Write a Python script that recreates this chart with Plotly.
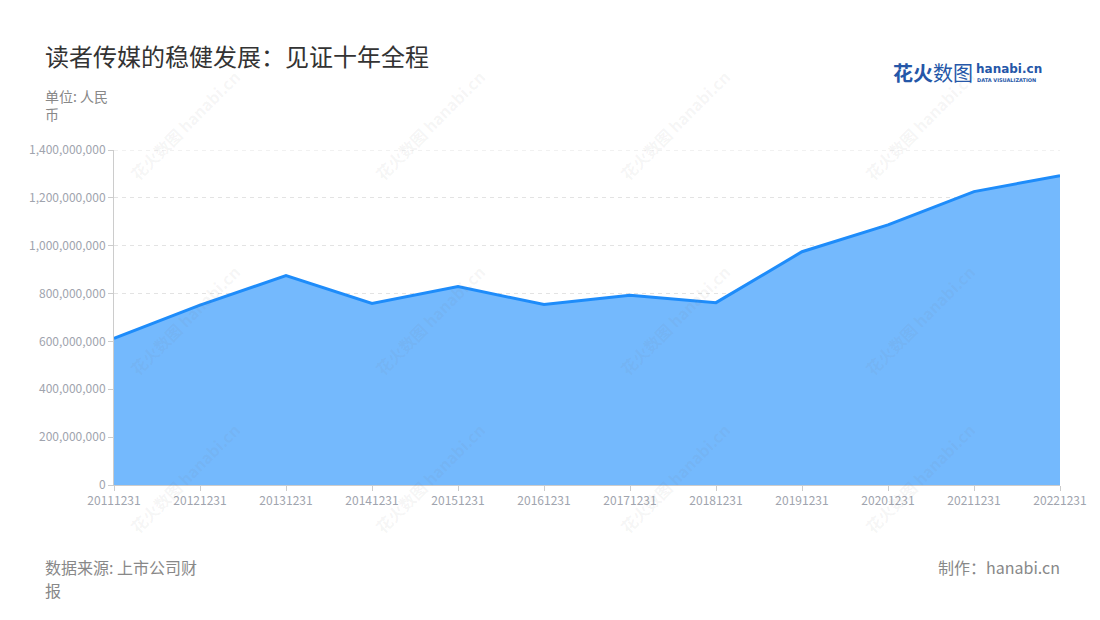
import plotly.graph_objects as go

categories = ["20111231", "20121231", "20131231", "20141231", "20151231", "20161231",
              "20171231", "20181231", "20191231", "20201231", "20211231", "20221231"]
values = [613e6, 752e6, 875e6, 759e6, 829e6, 754e6, 793e6, 762e6, 975e6, 1087e6, 1226e6, 1293e6]
y_ticks = [0, 200e6, 400e6, 600e6, 800e6, 1000e6, 1200e6, 1400e6]
y_tick_labels = ["0", "200,000,000", "400,000,000", "600,000,000", "800,000,000",
                 "1,000,000,000", "1,200,000,000", "1,400,000,000"]

FONT = "Noto Sans CJK SC"
OFF = 8  # page body margin

W, H = 1100, 620
L, R, T, B = 114 - OFF, 40 + OFF, 150 - OFF, 135 + OFF

fig = go.Figure()
fig.add_trace(go.Scatter(
    x=categories, y=values, mode="lines",
    line=dict(color="#1E8CFA", width=3),
    fill="tozeroy", fillcolor="#74B9FD",
    hoverinfo="x+y",
))


def paper_x(px):
    return (px - OFF - L) / (W - L - R)


def paper_y(py):
    return (H - B - (py - OFF)) / (H - T - B)


annotations = []
# watermarks
for cx in [185, 430, 675, 920]:
    for cy in [125, 320, 478]:
        annotations.append(dict(
            x=paper_x(cx), y=paper_y(cy), xref="paper", yref="paper",
            xanchor="center", yanchor="middle", showarrow=False,
            text="<b>花火数图</b> <b>hanabi.cn</b>", textangle=-45,
            font=dict(family=FONT, size=16, color="rgba(120,120,120,0.07)"),
        ))

annotations += [
    dict(x=paper_x(43), y=paper_y(55), xref="paper", yref="paper", xanchor="left", yanchor="middle",
         showarrow=False, text="读者传媒的稳健发展：见证十年全程",
         font=dict(family=FONT, size=24, color="#333333")),
    dict(x=paper_x(43), y=paper_y(105), xref="paper", yref="paper", xanchor="left", yanchor="middle",
         showarrow=False, text="单位: 人民<br>币", align="left",
         font=dict(family=FONT, size=14, color="#888888")),
    dict(x=paper_x(43), y=paper_y(567), xref="paper", yref="paper", xanchor="left", yanchor="middle",
         showarrow=False, text="数据来源: 上市公司财", align="left",
         font=dict(family=FONT, size=16, color="#888888")),
    dict(x=paper_x(43), y=paper_y(590), xref="paper", yref="paper", xanchor="left", yanchor="middle",
         showarrow=False, text="报", align="left",
         font=dict(family=FONT, size=16, color="#888888")),
    dict(x=paper_x(1062), y=paper_y(567), xref="paper", yref="paper", xanchor="right", yanchor="middle",
         showarrow=False, text="制作：hanabi.cn", align="right",
         font=dict(family=FONT, size=16, color="#888888")),
    # logo
    dict(x=paper_x(891), y=paper_y(72), xref="paper", yref="paper", xanchor="left", yanchor="middle",
         showarrow=False, text="<b>花火</b>数图",
         font=dict(family=FONT, size=20, color="#2557A8")),
    dict(x=paper_x(974), y=paper_y(69), xref="paper", yref="paper", xanchor="left", yanchor="middle",
         showarrow=False, text="<b>hanabi.cn</b>",
         font=dict(family="DejaVu Sans", size=12, color="#2557A8")),
    dict(x=paper_x(975), y=paper_y(80), xref="paper", yref="paper", xanchor="left", yanchor="middle",
         showarrow=False, text="<b>DATA VISUALIZATION</b>",
         font=dict(family="DejaVu Sans", size=5, color="#2557A8")),
]

fig.update_layout(
    width=W, height=H,
    margin=dict(l=L, r=R, t=T, b=B),
    paper_bgcolor="white", plot_bgcolor="white",
    showlegend=False,
    font=dict(family=FONT),
    annotations=annotations,
    shapes=[dict(type="line", xref="paper", yref="y", x0=0, x1=1, y0=y_ticks[-1], y1=y_ticks[-1],
                 line=dict(color="#e3e3e3", width=1, dash="4px,4px"), layer="below")],
)
fig.update_xaxes(
    type="category", range=[0, len(categories) - 1],
    showgrid=False, showline=True, linecolor="#cccccc", linewidth=1,
    ticks="outside", ticklen=5, tickcolor="#cccccc",
    tickfont=dict(family=FONT, size=12, color="#a0a4ae"),
    zeroline=False,
)
fig.update_yaxes(
    range=[0, 1400e6], tickvals=y_ticks, ticktext=y_tick_labels,
    showgrid=True, gridcolor="#e3e3e3", griddash="4px,4px", gridwidth=1,
    showline=True, linecolor="#cccccc", linewidth=1,
    ticks="outside", ticklen=5, tickcolor="#cccccc",
    tickfont=dict(family=FONT, size=12, color="#a0a4ae"),
    zeroline=False,
)

fig.write_html("out.html")
